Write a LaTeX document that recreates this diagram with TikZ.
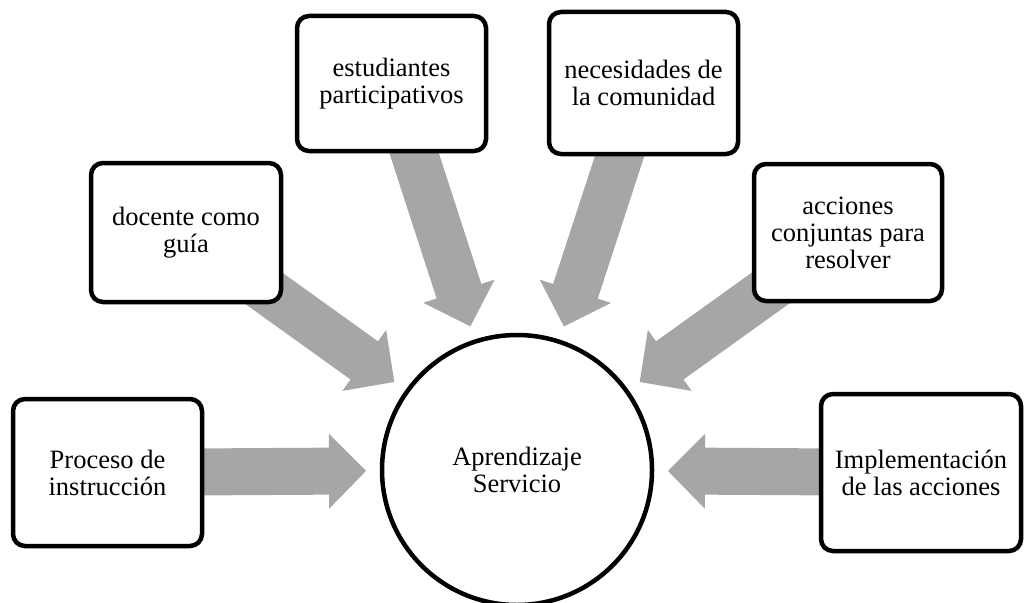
\documentclass[tikz,border=0pt]{standalone}
\usepackage{fontspec}
\setmainfont{Liberation Serif}
\usetikzlibrary{calc}
\pgfdeclarelayer{background}
\pgfsetlayers{background,main}
\definecolor{arrowgray}{RGB}{166,166,166}
\newcommand\blockarrow[2]{%
  \coordinate (tip) at ($(#2.center)!151pt!(#1.center)$);
  \coordinate (hb) at ($(tip)!37pt!(#1.center)$);
  \fill[arrowgray] (tip) -- ($(hb)!37.5pt!90:(#1.center)$) -- ($(hb)!23.5pt!90:(#1.center)$)
    -- ($(#1.center)!23.5pt!-90:(hb)$) -- ($(#1.center)!23.5pt!90:(hb)$)
    -- ($(hb)!23.5pt!-90:(#1.center)$) -- ($(hb)!37.5pt!-90:(#1.center)$) -- cycle;}
\begin{document}
\begin{tikzpicture}[x=1pt,y=-1pt,
  txt/.style={font=\fontsize{26.5}{27}\selectfont, align=center, text=black},
  box/.style={txt, draw=black, fill=white, line width=4.5pt, rounded corners=12pt, inner sep=0pt},
  hub/.style={txt, circle, draw=black, fill=white, line width=4.5pt, minimum size=270pt, inner sep=0pt}]
\useasboundingbox (0,0) rectangle (1024,602);
\node[hub] (c) at (517,470) {Aprendizaje\\Servicio};
\node[box, minimum width=189pt, minimum height=147pt] (b1) at (107.5,472.5) {Proceso de\\instrucción};
\node[box, minimum width=190pt, minimum height=139pt] (b2) at (186,232.5) {docente como\\guía};
\node[box, minimum width=189pt, minimum height=135pt] (b3) at (391.5,83.5) {estudiantes\\participativos};
\node[box, minimum width=189pt, minimum height=142pt] (b4) at (643.5,83) {necesidades de\\la comunidad};
\node[box, minimum width=188pt, minimum height=137pt] (b5) at (848,232.5) {acciones\\conjuntas para\\resolver};
\node[box, minimum width=200pt, minimum height=157pt] (b6) at (921,472.5) {Implementación\\de las acciones};
\begin{pgfonlayer}{background}
\blockarrow{b1}{c}
\blockarrow{b2}{c}
\blockarrow{b3}{c}
\blockarrow{b4}{c}
\blockarrow{b5}{c}
\blockarrow{b6}{c}
\end{pgfonlayer}
\end{tikzpicture}
\end{document}
